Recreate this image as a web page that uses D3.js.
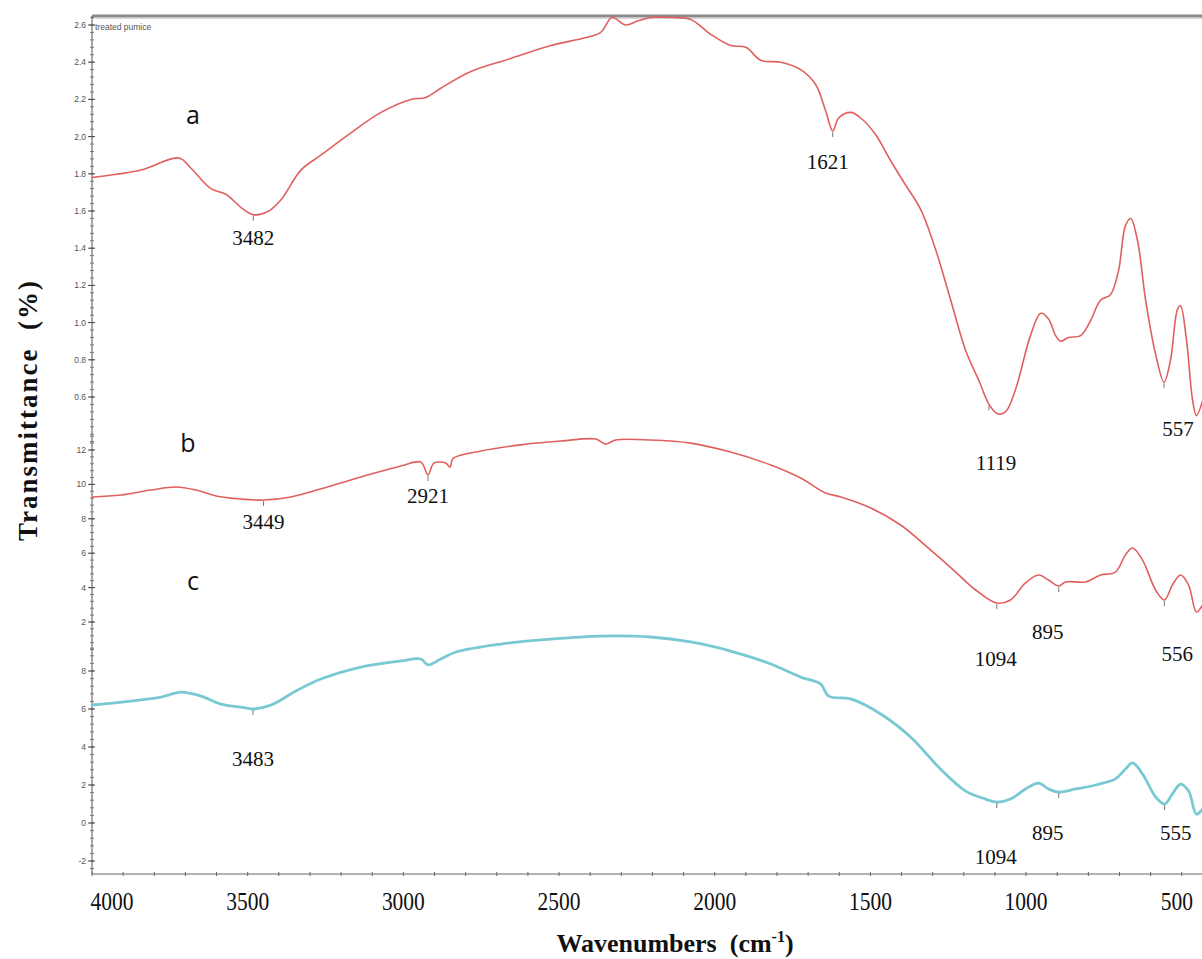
<!DOCTYPE html>
<html>
<head>
<meta charset="utf-8">
<script src="https://cdn.jsdelivr.net/npm/d3@7"></script>
<style>
  body { margin: 0; background: #fff; }
  svg { display: block; }
</style>
</head>
<body>
<svg id="chart" width="1202" height="959"></svg>
<script>
// FTIR spectra: (a) treated pumice, (b) and (c) modified samples
const waveA = [4000,3843,3721,3682,3618,3570,3522,3483,3432,3393,3329,3265,3185,3072,2976,2928,2880,2783,2655,2526,2420,2366,2330,2286,2250,2206,2140,2077,2013,1949,1900,1852,1788,1724,1676,1644,1621,1602,1563,1531,1483,1435,1387,1339,1290,1242,1194,1152,1119,1092,1066,1034,986,953,928,905,889,864,825,793,761,729,703,681,664,642,616,584,557,536,514,504,485,465,453,433];
const valA  = [1.78,1.82,1.885,1.83,1.72,1.69,1.62,1.58,1.60,1.66,1.82,1.90,2.00,2.13,2.20,2.21,2.26,2.35,2.42,2.49,2.53,2.56,2.64,2.60,2.62,2.64,2.64,2.63,2.55,2.49,2.48,2.41,2.40,2.36,2.28,2.14,2.03,2.10,2.13,2.10,2.01,1.87,1.74,1.61,1.39,1.12,0.85,0.69,0.56,0.51,0.52,0.64,0.93,1.05,1.02,0.93,0.90,0.92,0.93,1.01,1.12,1.15,1.28,1.52,1.56,1.44,1.12,0.83,0.68,0.80,1.07,1.09,0.91,0.58,0.50,0.58];

const waveB = [4000,3907,3811,3730,3666,3602,3522,3449,3361,3233,3104,3008,2944,2921,2902,2864,2850,2841,2751,2623,2494,2382,2350,2318,2206,2077,1949,1820,1724,1644,1595,1499,1403,1307,1226,1162,1094,1050,1002,960,928,895,873,809,761,713,681,658,626,584,556,530,504,478,453,433];
const valB  = [9.27,9.38,9.67,9.85,9.67,9.33,9.15,9.09,9.27,9.91,10.6,11.07,11.3,10.55,11.24,11.24,11.0,11.5,11.94,12.3,12.52,12.64,12.35,12.58,12.58,12.4,11.88,11.13,10.37,9.5,9.27,8.63,7.64,6.19,4.9,3.86,3.1,3.28,4.27,4.73,4.44,4.09,4.33,4.33,4.73,4.9,5.9,6.3,5.6,3.86,3.28,4.15,4.73,4.15,2.58,2.99];

const waveC = [4000,3875,3778,3714,3650,3586,3522,3483,3425,3345,3265,3136,3008,2944,2921,2880,2831,2687,2526,2366,2206,2077,1949,1820,1724,1660,1634,1563,1467,1371,1275,1194,1130,1094,1050,1002,960,928,895,841,777,713,681,658,626,584,555,530,504,478,453,433];
const valC  = [6.21,6.42,6.63,6.89,6.68,6.26,6.1,6.0,6.21,6.95,7.58,8.21,8.53,8.63,8.32,8.63,9.0,9.42,9.68,9.84,9.79,9.53,9.05,8.37,7.68,7.32,6.68,6.53,5.74,4.53,2.84,1.68,1.26,1.1,1.26,1.79,2.1,1.79,1.63,1.79,2.0,2.32,2.84,3.16,2.58,1.37,1.0,1.53,2.05,1.68,0.47,0.74];

// band assignments shown on each trace
const peaksA = [3482, 1621, 1119, 557];
const peaksB = [3449, 2921, 1094, 895, 556];
const peaksC = [3483, 1094, 895, 555];

// axis ticks
const xTicks  = [4000, 3500, 3000, 2500, 2000, 1500, 1000, 500];
const yTicksA = [0.6, 0.8, 1.0, 1.2, 1.4, 1.6, 1.8, 2.0, 2.2, 2.4, 2.6];
const yTicksB = [2, 4, 6, 8, 10, 12];
const yTicksC = [-2, 0, 2, 4, 6, 8];

const panelLetters = ["a", "b", "c"];

const svg = d3.select("#chart");
const plotLeft = 92, plotRight = 1202, plotTop = 16, plotBottom = 874;

const x = d3.scaleLinear().domain([4000, 435]).range([plotLeft, plotRight]);
const yA = d3.scaleLinear().domain([0.6, 2.6]).range([397, 25]);
const yB = d3.scaleLinear().domain([2, 12]).range([622, 450]);
const yC = d3.scaleLinear().domain([-2, 8]).range([861, 671]);

// frame: heavy top rule
svg.append("line").attr("x1", plotLeft).attr("x2", plotRight).attr("y1", plotTop).attr("y2", plotTop)
  .attr("stroke", "#8a8a8a").attr("stroke-width", 3);
svg.append("line").attr("x1", plotLeft).attr("x2", plotRight).attr("y1", plotTop + 2.5).attr("y2", plotTop + 2.5)
  .attr("stroke", "#d6d6d6").attr("stroke-width", 1);

// left axis line with minor ticks for each panel
svg.append("line").attr("x1", plotLeft).attr("x2", plotLeft).attr("y1", plotTop).attr("y2", plotBottom)
  .attr("stroke", "#555").attr("stroke-width", 1);

function yAxis(scale, ticks, step, lo, hi, fmt) {
  const minor = d3.range(lo, hi + 1e-9, step / 5);
  const g = svg.append("g");
  g.selectAll("line.minor").data(minor).join("line")
    .attr("x1", plotLeft - 2).attr("x2", plotLeft + 2)
    .attr("y1", d => scale(d)).attr("y2", d => scale(d))
    .attr("stroke", "#777").attr("stroke-width", 1);
  g.selectAll("line.major").data(ticks).join("line")
    .attr("x1", plotLeft - 4).attr("x2", plotLeft + 3)
    .attr("y1", d => scale(d)).attr("y2", d => scale(d))
    .attr("stroke", "#444").attr("stroke-width", 1);
  g.selectAll("text").data(ticks).join("text")
    .attr("x", plotLeft - 6).attr("y", d => scale(d) + 3)
    .attr("text-anchor", "end")
    .attr("font-family", "Liberation Sans, Arial, sans-serif")
    .attr("font-size", 8.5).attr("fill", "#555")
    .text(fmt);
}
yAxis(yA, yTicksA, 0.2, 0.36, 2.66, d => d.toFixed(1));
yAxis(yB, yTicksB, 2, 0.4, 12.8, d => d);
yAxis(yC, yTicksC, 2, -2.4, 9.2, d => d);

// bottom axis
const xMinor = d3.range(4000, 400, -100);
const xa = svg.append("g");
xa.append("line").attr("x1", plotLeft).attr("x2", plotRight).attr("y1", plotBottom).attr("y2", plotBottom)
  .attr("stroke", "#666").attr("stroke-width", 1);
xa.selectAll("line.t").data(xMinor).join("line")
  .attr("x1", d => x(d)).attr("x2", d => x(d))
  .attr("y1", plotBottom - 2).attr("y2", plotBottom + 2)
  .attr("stroke", "#666");
// end labels are pulled inside the frame
const labelShift = { 4000: 20, 500: -5 };
xa.selectAll("text").data(xTicks).join("text")
  .attr("transform", d => `translate(${x(d) + (labelShift[d] || 0)},910) scale(0.86,1)`)
  .attr("text-anchor", "middle")
  .attr("font-family", "Liberation Serif, Times New Roman, serif")
  .attr("font-size", 25)
  .attr("fill", "#111")
  .text(d => d);

// axis titles
const xt = svg.append("text")
  .attr("x", 675).attr("y", 952)
  .attr("text-anchor", "middle")
  .attr("font-family", "Liberation Serif, Times New Roman, serif")
  .attr("font-weight", "bold").attr("font-size", 26).attr("fill", "#111")
  .style("white-space", "pre");
xt.append("tspan").text("Wavenumbers  (cm");
xt.append("tspan").attr("dy", -10).attr("font-size", 16).text("-1");
xt.append("tspan").attr("dy", 10).text(")");

svg.append("text")
  .attr("transform", "translate(37,410) rotate(-90)")
  .attr("text-anchor", "middle")
  .attr("font-family", "Liberation Serif, Times New Roman, serif")
  .attr("font-weight", "bold").attr("font-size", 27).attr("fill", "#111")
  .attr("letter-spacing", 2)
  .style("white-space", "pre")
  .text("Transmittance  (%)");

svg.append("text").attr("x", 95).attr("y", 30)
  .attr("font-family", "Liberation Sans, Arial, sans-serif")
  .attr("font-size", 8.5).attr("fill", "#555").text("treated pumice");

// spectra
function trace(waves, vals, scale, color, width) {
  const pts = waves.map((w, i) => [x(w), scale(vals[i])]);
  svg.append("path")
    .attr("d", d3.line().curve(d3.curveCatmullRom.alpha(0.5))(pts))
    .attr("fill", "none").attr("stroke", color).attr("stroke-width", width)
    .attr("stroke-linejoin", "round");
}
trace(waveA, valA, yA, "#e0605f", 1.6);
trace(waveB, valB, yB, "#e0605f", 1.6);
trace(waveC, valC, yC, "#78c9d2", 2.8);

// band labels: value, label set below the band minimum
function interp(waves, vals, w) {
  for (let i = 0; i < waves.length - 1; i++) {
    if (w <= waves[i] && w >= waves[i + 1]) {
      const t = (waves[i] - w) / (waves[i] - waves[i + 1]);
      return vals[i] + t * (vals[i + 1] - vals[i]);
    }
  }
  return vals[vals.length - 1];
}
const nudges = {
  a: { 3482: [0, 30], 1621: [-5, 38], 1119: [7, 66], 557: [14, 54] },
  b: { 3449: [0, 29], 2921: [0, 28], 1094: [-1, 63], 895: [-11, 53], 556: [13, 61] },
  c: { 3483: [0, 57], 1094: [-1, 62], 895: [-11, 48], 555: [11, 36] }
};
function bandLabels(key, peaks, waves, vals, scale) {
  peaks.forEach(p => {
    const px = x(p), py = scale(interp(waves, vals, p));
    const [dx, dy] = nudges[key][p];
    svg.append("line").attr("x1", px).attr("x2", px).attr("y1", py + 1).attr("y2", py + 6)
      .attr("stroke", "#777").attr("stroke-width", 1);
    svg.append("text").attr("x", px + dx).attr("y", py + dy)
      .attr("text-anchor", "middle")
      .attr("font-family", "Liberation Serif, Times New Roman, serif")
      .attr("font-size", 21).attr("fill", "#111")
      .text(p);
  });
}
bandLabels("a", peaksA, waveA, valA, yA);
bandLabels("b", peaksB, waveB, valB, yB);
bandLabels("c", peaksC, waveC, valC, yC);

// panel letters
svg.selectAll("text.letter").data(panelLetters).join("text")
  .attr("class", "letter")
  .attr("x", (d, i) => [193, 188, 193][i])
  .attr("y", (d, i) => [124, 452, 590][i])
  .attr("text-anchor", "middle")
  .attr("font-family", "Open Sans, Noto Sans, sans-serif")
  .attr("font-size", 25).attr("fill", "#111")
  .text(d => d);
</script>
</body>
</html>
